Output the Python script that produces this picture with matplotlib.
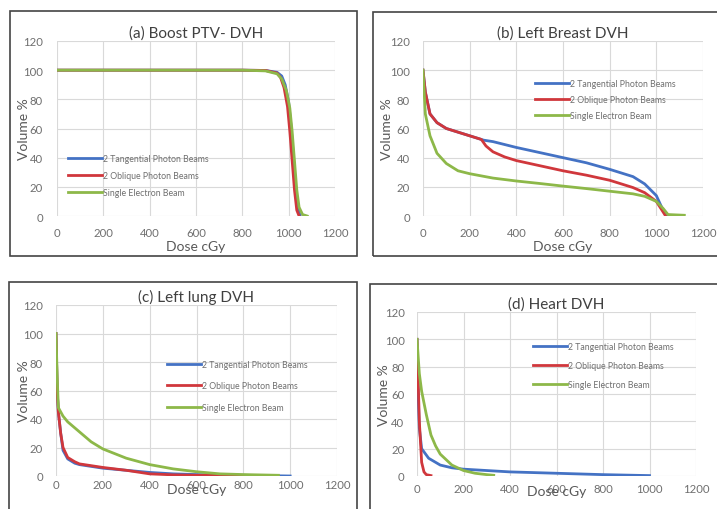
import matplotlib.pyplot as plt
from matplotlib.patches import Rectangle

plt.rcParams['font.family'] = ['Lato', 'DejaVu Sans']

labels = ['2 Tangential Photon Beams', '2 Oblique Photon Beams', 'Single Electron Beam']
colors = ['#4472C4', '#D0373C', '#8DB849']
titles = ['(a) Boost PTV- DVH', '(b) Left Breast DVH', '(c) Left lung DVH', '(d) Heart DVH']

# (a) Boost PTV
a_dose_blue = [0, 200, 400, 600, 800, 900, 950, 970, 985, 1000, 1010, 1020, 1030, 1040, 1050]
a_vol_blue = [100, 100, 100, 100, 100, 99.8, 98.5, 96, 90, 78, 62, 42, 20, 5, 0]
a_dose_red = [0, 200, 400, 600, 800, 900, 950, 965, 980, 995, 1005, 1015, 1025, 1035, 1045]
a_vol_red = [100, 100, 100, 100, 100, 99.8, 98, 95, 88, 75, 58, 38, 18, 4, 0]
a_dose_green = [0, 200, 400, 600, 800, 900, 950, 970, 990, 1005, 1015, 1025, 1035, 1045, 1060, 1080]
a_vol_green = [100, 100, 100, 100, 100, 99.5, 97.5, 94, 86, 74, 58, 38, 18, 6, 1, 0]

# (b) Left breast
b_dose_blue = [0, 10, 30, 60, 100, 150, 200, 260, 300, 400, 500, 600, 700, 800, 900, 950, 1000, 1020, 1040, 1050]
b_vol_blue = [100, 85, 70, 64, 60, 57.5, 55, 52, 51, 47, 43.5, 40, 36.5, 32, 27, 22, 14, 7, 1, 0]
b_dose_red = [0, 10, 30, 60, 100, 150, 200, 250, 270, 300, 350, 400, 500, 600, 700, 800, 900, 950, 1000, 1020, 1040]
b_vol_red = [100, 85, 70, 64, 60, 57.5, 55, 52.5, 48, 44, 40.5, 38, 34.5, 31, 28, 24.5, 19.5, 16, 10, 5, 0]
b_dose_green = [0, 10, 30, 60, 100, 150, 200, 300, 400, 500, 600, 700, 800, 900, 950, 1000, 1030, 1050, 1120]
b_vol_green = [100, 70, 55, 43, 36, 31, 29, 26, 24, 22.3, 20.5, 18.8, 17, 15.2, 13.5, 10, 5, 1, 0.5]

# (c) Left lung
c_dose_blue = [0, 5, 10, 20, 30, 50, 80, 100, 200, 300, 400, 500, 600, 800, 1000]
c_vol_blue = [100, 60, 45, 30, 18, 12, 9, 8, 5.5, 4, 2.5, 1.5, 1, 0.5, 0]
c_dose_red = [0, 5, 10, 20, 30, 50, 80, 100, 200, 300, 400, 500, 600, 800]
c_vol_red = [100, 60, 45, 30, 20, 13, 10, 8.5, 6, 4, 1.5, 0.8, 0.5, 0.2]
c_dose_green = [0, 5, 10, 30, 50, 100, 150, 200, 300, 400, 500, 600, 700, 800, 950]
c_vol_green = [100, 70, 48, 42, 38, 31, 24, 19, 12.5, 8, 5, 3, 1.5, 1, 0.5]

# (d) Heart
d_dose_blue = [0, 5, 10, 20, 50, 100, 150, 200, 400, 600, 800, 1000]
d_vol_blue = [100, 60, 35, 20, 13, 8, 6, 5, 3, 2, 1, 0.3]
d_dose_red = [0, 5, 10, 20, 30, 40, 60]
d_vol_red = [100, 70, 40, 10, 3, 1, 0.3]
d_dose_green = [0, 10, 20, 40, 60, 80, 100, 150, 200, 250, 300, 330]
d_vol_green = [100, 75, 62, 45, 30, 22, 16, 8, 4, 2, 1, 0.5]

panels = [
    [(a_dose_blue, a_vol_blue), (a_dose_red, a_vol_red), (a_dose_green, a_vol_green)],
    [(b_dose_blue, b_vol_blue), (b_dose_red, b_vol_red), (b_dose_green, b_vol_green)],
    [(c_dose_blue, c_vol_blue), (c_dose_red, c_vol_red), (c_dose_green, c_vol_green)],
    [(d_dose_blue, d_vol_blue), (d_dose_red, d_vol_red), (d_dose_green, d_vol_green)],
]

W, H = 717, 510
fig = plt.figure(figsize=(W / 100, H / 100), dpi=100)

# panel borders (pixels: left, top, right, bottom)
borders = [(10, 12, 357, 257), (373, 13, 730, 257), (9, 283, 357, 530), (370, 285, 730, 530)]
for l, t, r, b in borders:
    fig.patches.append(Rectangle((l / W, 1 - b / H), (r - l) / W, (b - t) / H,
                                 transform=fig.transFigure, fill=False,
                                 edgecolor='#444444', lw=1.2, zorder=1))

# plot areas (pixels: left, top of 120, right of 1200, bottom of 0)
boxes = [(57, 42, 335, 217), (423, 42, 703, 217), (56, 306, 337, 477), (417, 313, 696, 477)]
# legend placement (axes coords of top-left, labelspacing)
legpos = [(0.04, 0.355, 0.95), (0.40, 0.785, 0.8), (0.395, 0.68, 1.45), (0.416, 0.815, 1.15)]
# x tick pad, y tick pad, x label y, y label x
axpos = [(8, 10, -0.17, -0.12), (8, 9.5, -0.17, -0.13),
         (2.5, 9.5, -0.076, -0.115), (4.7, 9, -0.09, -0.12)]

for i in range(4):
    l, t, r, b = boxes[i]
    ax = fig.add_axes([l / W, 1 - b / H, (r - l) / W, (b - t) / H])
    for (x, y), c, lab in zip(panels[i], colors, labels):
        ax.plot(x, y, color=c, lw=2, label=lab)
    ax.set_xlim(0, 1200)
    ax.set_ylim(0, 120)
    ax.set_xticks(range(0, 1201, 200))
    ax.set_yticks(range(0, 121, 20))
    ax.grid(True, color='#d9d9d9', lw=0.8)
    ax.set_axisbelow(True)
    for s in ax.spines.values():
        s.set_visible(False)
    xp, yp, xly, ylx = axpos[i]
    ax.tick_params(length=0, labelsize=8.2, colors='#6f6f6f')
    ax.tick_params(axis='x', pad=xp)
    ax.tick_params(axis='y', pad=yp)
    ax.set_xlabel('Dose cGy', fontsize=10, color='#595959')
    ax.set_ylabel('Volume %', fontsize=10, color='#595959')
    ax.xaxis.set_label_coords(0.5, xly)
    ax.xaxis.label.set_verticalalignment('center')
    ax.yaxis.set_label_coords(ylx, 0.5)
    ax.yaxis.label.set_verticalalignment('center')
    ax.set_title(titles[i], fontsize=11, color='#404040', pad=3)
    lx, ly, ls = legpos[i]
    ax.legend(loc='upper left', bbox_to_anchor=(lx, ly), frameon=False, fontsize=6.3,
              handlelength=3.9, handletextpad=0.1, labelspacing=ls, borderpad=0,
              borderaxespad=0, labelcolor='#6f6f6f')

fig.savefig('out.png', dpi=100)
